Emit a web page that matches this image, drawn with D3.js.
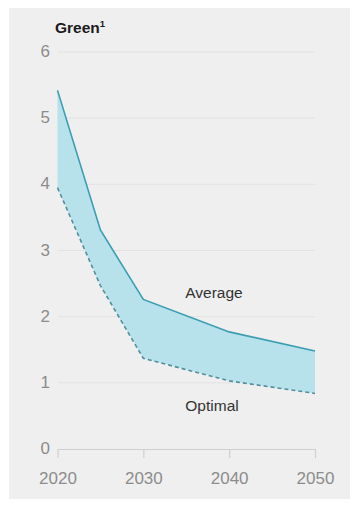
<!DOCTYPE html>
<html><head><meta charset="utf-8">
<script src="https://cdn.jsdelivr.net/npm/d3@7"></script>
<style>
html,body{margin:0;padding:0;background:#fff;}
svg{display:block;font-family:"Liberation Sans",Arial,Helvetica,sans-serif;}
</style></head>
<body>
<svg id="chart" width="361" height="514"></svg>
<script>
const years = [2020, 2025, 2030, 2040, 2050];
const average = [5.42, 3.31, 2.26, 1.77, 1.48];
const optimal = [3.95, 2.47, 1.37, 1.03, 0.84];
const yTicks = [0, 1, 2, 3, 4, 5, 6];
const xTicks = [2020, 2030, 2040, 2050];
const title = "Green";
const titleSup = "1";
const labelAverage = "Average";
const labelOptimal = "Optimal";

const svg = d3.select("#chart");
svg.append("rect").attr("x", 9).attr("y", 8).attr("width", 341).attr("height", 491).attr("fill", "#efefef");

const x = d3.scaleLinear().domain([2020, 2050]).range([57.5, 315]);
const y = d3.scaleLinear().domain([0, 6]).range([449, 52]);

// gridlines
svg.append("g").selectAll("line").data(yTicks.filter(d => d > 0)).join("line")
  .attr("x1", 58).attr("x2", 315)
  .attr("y1", d => y(d)).attr("y2", d => y(d))
  .attr("stroke", "#e2e2e2").attr("stroke-width", 1);

// y labels
svg.append("g").selectAll("text").data(yTicks).join("text")
  .attr("x", 50).attr("y", d => y(d) + 5)
  .attr("text-anchor", "end").attr("font-size", 17).attr("fill", "#8c8c8c")
  .text(d => d);

// area
const pts = years.map((yr, i) => ({yr, a: average[i], o: optimal[i]}));
svg.append("path").datum(pts)
  .attr("d", d3.area().x(d => x(d.yr)).y0(d => y(d.o)).y1(d => y(d.a)))
  .attr("fill", "#b7e2ec");

svg.append("path").datum(pts)
  .attr("d", d3.line().x(d => x(d.yr)).y(d => y(d.a)))
  .attr("fill", "none").attr("stroke", "#3a9db0").attr("stroke-width", 1.6);

svg.append("path").datum(pts)
  .attr("d", d3.line().x(d => x(d.yr)).y(d => y(d.o)))
  .attr("fill", "none").attr("stroke", "#4f8f9c").attr("stroke-width", 1.6)
  .attr("stroke-dasharray", "4,3");

// x axis
const xAxis = d3.axisBottom(x).tickValues(xTicks).tickFormat(d3.format("d")).tickSize(9).tickPadding(14).tickSizeOuter(0);
const gx = svg.append("g").attr("transform", `translate(0,${y(0)})`).call(xAxis);
gx.select(".domain").attr("stroke", "#cfcfcf").attr("stroke-width", 1.2);
gx.selectAll(".tick line").attr("stroke", "#cfcfcf").attr("stroke-width", 1.2);
gx.selectAll(".tick text").attr("font-size", 17).attr("fill", "#8c8c8c")
  .attr("font-family", "Liberation Sans, Arial, sans-serif");

// title
const t = svg.append("text").attr("x", 55).attr("y", 33).attr("font-size", 15.5).attr("font-weight", "bold").attr("fill", "#1a1a1a");
t.append("tspan").text(title);
t.append("tspan").attr("font-size", 9.5).attr("dy", -6).text(titleSup);

// series labels
svg.append("text").attr("x", 214).attr("y", 298).attr("text-anchor", "middle").attr("font-size", 15.5).attr("fill", "#333").text(labelAverage);
svg.append("text").attr("x", 212).attr("y", 411).attr("text-anchor", "middle").attr("font-size", 15.5).attr("fill", "#333").text(labelOptimal);
</script>
</body></html>
